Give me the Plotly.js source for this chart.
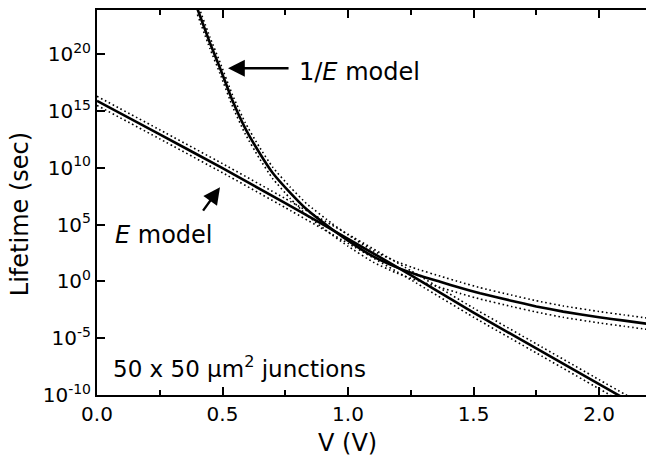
<!DOCTYPE html>
<html>
<head>
<meta charset="utf-8">
<script src="https://cdn.plot.ly/plotly-3.0.1.min.js"></script>
<style>html,body{margin:0;padding:0;background:#fff;}#chart{width:646px;height:464px;}</style>
</head>
<body>
<div id="chart"></div>
<script>
// E model (straight line on log scale): V (volts) and log10(lifetime / s)
const eV     = [0, 0.25, 0.5, 0.75, 1.0, 1.25, 1.5, 1.75, 2.0, 2.1, 2.15];
const eLog   = [15.9, 12.95, 9.97, 6.9, 3.75, 0.55, -2.75, -5.9, -9.05, -10.3, -10.9];
const eUpLog = [16.3, 13.35, 10.37, 7.3, 4.15, 0.95, -2.35, -5.5, -8.65, -9.9, -10.5];
const eLoLog = [15.5, 12.55, 9.57, 6.5, 3.35, 0.15, -3.15, -6.3, -9.45, -10.7, -11.3];

// 1/E model
const invV     = [0.40, 0.45, 0.49, 0.54, 0.59, 0.645, 0.70, 0.77, 0.835, 0.936, 1.0, 1.1, 1.187, 1.28, 1.367, 1.45, 1.526, 1.65, 1.75, 1.857, 2.0, 2.1, 2.2];
const invLog   = [24.0, 21.0, 18.8, 15.9, 13.5, 11.4, 9.55, 7.8, 6.35, 4.6, 3.6, 2.2, 1.3, 0.55, -0.03, -0.58, -1.05, -1.7, -2.2, -2.66, -3.15, -3.45, -3.75];
const invUpLog = [24.5, 21.5, 19.3, 16.4, 14.0, 11.9, 10.05, 8.3, 6.85, 5.1, 4.1, 2.7, 1.8, 1.05, 0.47, -0.08, -0.55, -1.2, -1.7, -2.16, -2.65, -2.95, -3.25];
const invLoLog = [23.5, 20.5, 18.3, 15.4, 13.0, 10.9, 9.05, 7.3, 5.85, 4.1, 3.1, 1.7, 0.8, 0.05, -0.53, -1.08, -1.55, -2.2, -2.7, -3.16, -3.65, -3.95, -4.25];

// Axis ticks
const xTickVals = [0, 0.5, 1.0, 1.5, 2.0];
const xTickText = ['0.0', '0.5', '1.0', '1.5', '2.0'];
const yTickExp  = [-10, -5, 0, 5, 10, 15, 20];
const yTickText = ['10<sup>-10</sup>', '10<sup>-5</sup>', '10<sup>0</sup>', '10<sup>5</sup>', '10<sup>10</sup>', '10<sup>15</sup>', '10<sup>20</sup>'];

const pow = a => a.map(v => Math.pow(10, v));
const FONT = '"DejaVu Sans", Arial, sans-serif';

const solid = {color: '#000', width: 2.6, shape: 'spline', smoothing: 0.4};
const dotted = {color: '#000', width: 1.6, dash: '1.6px,2.8px', shape: 'spline', smoothing: 0.4};

const traces = [
  {x: eV, y: pow(eUpLog), mode: 'lines', line: dotted},
  {x: eV, y: pow(eLoLog), mode: 'lines', line: dotted},
  {x: invV, y: pow(invUpLog), mode: 'lines', line: dotted},
  {x: invV, y: pow(invLoLog), mode: 'lines', line: dotted},
  {x: eV, y: pow(eLog), mode: 'lines', line: solid},
  {x: invV, y: pow(invLog), mode: 'lines', line: solid}
];

const layout = {
  width: 646, height: 464,
  margin: {l: 97, r: 0, t: 10, b: 69},
  paper_bgcolor: '#fff', plot_bgcolor: '#fff',
  showlegend: false,
  font: {family: FONT, color: '#000', size: 20},
  xaxis: {
    range: [0, 2.187], showgrid: false, zeroline: false,
    showline: true, linecolor: '#000', linewidth: 2, mirror: 'ticks',
    ticks: 'inside', ticklen: 8, tickwidth: 2, tickcolor: '#000',
    tickvals: xTickVals, ticktext: xTickText,
    tickfont: {family: FONT, size: 20, color: '#000'},
    minor: {dtick: 0.25, tick0: 0, ticks: 'inside', ticklen: 5, tickwidth: 2, tickcolor: '#000'}
  },
  yaxis: {
    type: 'log', range: [-10, 23.9], showgrid: false, zeroline: false,
    showline: true, linecolor: '#000', linewidth: 2,
    ticks: 'inside', ticklen: 8, tickwidth: 2, tickcolor: '#000',
    tickvals: pow(yTickExp), ticktext: yTickText,
    tickfont: {family: FONT, size: 20, color: '#000'}
  },
  annotations: [
    {xref: 'paper', yref: 'paper', x: 0.457, y: -0.125, xanchor: 'center', yanchor: 'middle',
     text: 'V (V)', showarrow: false, font: {family: FONT, size: 24, color: '#000'}},
    {xref: 'paper', yref: 'paper', x: -0.14, y: 0.47, xanchor: 'center', yanchor: 'middle',
     text: 'Lifetime (sec)', textangle: -90, showarrow: false, font: {family: FONT, size: 24, color: '#000'}},
    {xref: 'x', yref: 'y', x: 0.795, y: 18.45, xanchor: 'left', yanchor: 'middle',
     text: '1/<i>E</i> model', showarrow: false, font: {family: FONT, size: 24, color: '#000'}},
    {xref: 'x', yref: 'y', x: 0.065, y: 4.1, xanchor: 'left', yanchor: 'middle',
     text: '<i>E</i> model', showarrow: false, font: {family: FONT, size: 24, color: '#000'}},
    {xref: 'x', yref: 'y', x: 0.055, y: -7.5, xanchor: 'left', yanchor: 'middle',
     text: '50 x 50 \u03bcm<sup>2</sup> junctions', showarrow: false, font: {family: FONT, size: 23, color: '#000'}},
    {xref: 'x', yref: 'y', x: 0.522, y: 18.77, text: '', showarrow: true, ax: 62, ay: 0,
     arrowhead: 2, arrowsize: 1.4, arrowwidth: 2.4, arrowcolor: '#000'},
    {xref: 'x', yref: 'y', x: 0.49, y: 8.3, text: '', showarrow: true, ax: -18, ay: 25,
     arrowhead: 2, arrowsize: 1.4, arrowwidth: 2.4, arrowcolor: '#000'}
  ]
};

Plotly.newPlot('chart', traces, layout, {staticPlot: true, displayModeBar: false});
</script>
</body>
</html>
